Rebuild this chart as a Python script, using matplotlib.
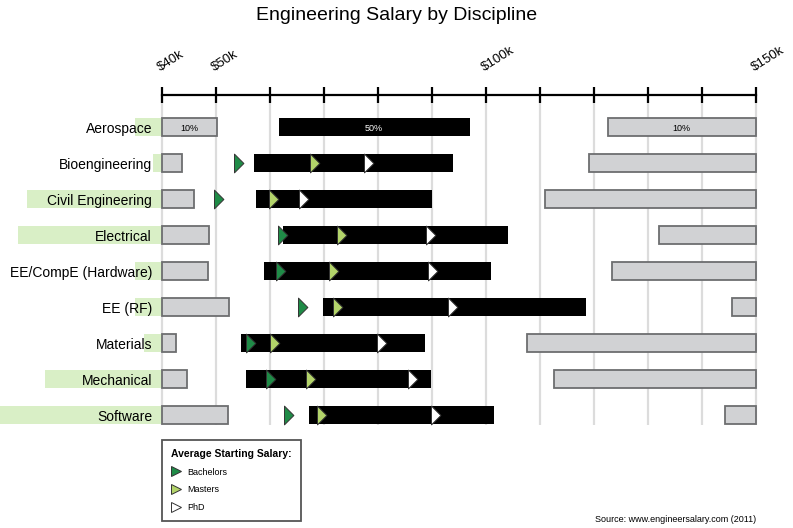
#!/usr/bin/env python3

import numpy as np
import matplotlib
matplotlib.use('Agg')
import matplotlib.pyplot as plt
from matplotlib.path import Path
from matplotlib.lines import Line2D

plt.rcParams['font.family'] = ['Liberation Sans', 'DejaVu Sans']

# salaries in $k
disciplines = ['Aerospace', 'Bioengineering', 'Civil Engineering', 'Electrical',
               'EE/CompE (Hardware)', 'EE (RF)', 'Materials', 'Mechanical', 'Software']
low10 = [50.3, 43.7, 45.9, 48.8, 48.6, 52.5, 42.6, 44.7, 52.3]
mid_lo = [61.7, 57.1, 57.4, 62.4, 58.9, 69.9, 54.7, 55.7, 67.2]
mid_hi = [97.0, 93.9, 90.1, 104.2, 100.9, 118.6, 88.8, 89.9, 101.6]
top10 = [122.6, 119.2, 110.9, 132.1, 123.4, 145.7, 107.6, 112.7, 144.3]
bachelors = [np.nan, 53.4, 49.6, 61.5, 61.2, 65.3, 55.6, 59.3, 62.7]
masters = [np.nan, 67.4, 59.9, 72.4, 70.9, 71.8, 60.0, 66.7, 68.7]
phd = [np.nan, 77.5, 65.5, 88.9, 89.4, 93.0, 79.9, 85.7, 89.8]
highlight = [5.0, 1.7, 25.0, 26.6, 5.0, 5.0, 3.3, 21.6, 30.0]

ticks = list(range(40, 151, 10))
tick_labels = ['$40k', '$50k', '', '', '', '', '$100k', '', '', '', '', '$150k']

xmin, xmax = 40, 150
px_per_k = 5.4
W, H = 793, 528

fig = plt.figure(figsize=(W / 100, H / 100), dpi=100)
ax = fig.add_axes([0, 0, 1, 1 - 95 / H])
ax.set_xlim(xmin - 161.7 / px_per_k, xmin + (W - 161.7) / px_per_k)
row_top = (95 - 127) / 36
row_bot = (H - 127) / 36
ax.set_ylim(row_bot, row_top)

rows = np.arange(len(disciplines))
bh = 0.52
hl = np.array(highlight)
low = np.array(low10)
lo = np.array(mid_lo)
hi = np.array(mid_hi)
top = np.array(top10)

ax.vlines(ticks, row_top, (425 - 127) / 36, color='#dcdcdc', lw=1.6, zorder=0)

ax.barh(rows, hl, left=xmin - hl, height=bh, color='#d9efc6', zorder=1)
ax.barh(rows, low - xmin, left=xmin, height=bh, color='#d1d2d4', edgecolor='#6d6e70', lw=1.3, zorder=2)
ax.barh(rows, hi - lo, left=lo, height=bh, color='black', zorder=2)
ax.barh(rows, xmax - top, left=top, height=bh, color='#d1d2d4', edgecolor='#6d6e70', lw=1.3, zorder=2)

for i, name in enumerate(disciplines):
    ax.text(xmin - 9.7 / px_per_k, i, name, ha='right', va='center_baseline', fontsize=10, zorder=3)

ax.text((xmin + low[0]) / 2, 0, '10%', ha='center', va='center_baseline', fontsize=6.5, zorder=3)
ax.text((lo[0] + hi[0]) / 2, 0, '50%', ha='center', va='center_baseline', fontsize=6.5, color='white', zorder=3)
ax.text((top[0] + xmax) / 2, 0, '10%', ha='center', va='center_baseline', fontsize=6.5, zorder=3)

tri = Path([(0, -1), (1, 0), (0, 1), (0, -1)], [Path.MOVETO, Path.LINETO, Path.LINETO, Path.CLOSEPOLY])
styles = [('Bachelors', bachelors, '#1f8b47'), ('Masters', masters, '#b3d46a'), ('PhD', phd, 'white')]
handles = []
for label, vals, c in styles:
    ax.plot(vals, rows, ls='none', marker=tri, ms=13.5, mfc=c, mec='#333333', mew=0.7, zorder=4)
    handles.append(Line2D([], [], ls='none', marker='>', ms=7.5, mfc=c, mec='#333333', mew=0.7, label=label))

# top axis
for s in ['left', 'right', 'bottom']:
    ax.spines[s].set_visible(False)
ax.spines['top'].set_bounds(xmin, xmax)
ax.spines['top'].set_linewidth(1.6)
ax.set_yticks([])
ax.xaxis.tick_top()
ax.set_xticks(ticks, tick_labels)
ax.tick_params(axis='x', direction='inout', length=11, width=1.6, pad=10, labelsize=9.5)
for lbl in ax.get_xticklabels():
    lbl.set_rotation(32)
    lbl.set_rotation_mode('anchor')
    lbl.set_ha('left')
    lbl.set_va('bottom')

leg = ax.legend(handles=handles, title='Average Starting Salary:', loc='upper left',
                bbox_to_anchor=(162 / W, (H - 440) / (H - 95)), fontsize=6.5,
                title_fontproperties={'weight': 'bold', 'size': 7.5}, fancybox=False,
                edgecolor='#555555', framealpha=1, labelspacing=0.95, handletextpad=0.8,
                borderpad=1.0, borderaxespad=0, handlelength=1.0)
leg._legend_box.align = 'left'
leg.get_frame().set_linewidth(1.3)

fig.text(0.5, 1 - 15 / H, 'Engineering Salary by Discipline', ha='center', va='center', fontsize=14)
fig.text(756 / W, 1 - 519 / H, 'Source: www.engineersalary.com (2011)', ha='right', va='center', fontsize=6.5)

plt.savefig('out.png', dpi=100)
